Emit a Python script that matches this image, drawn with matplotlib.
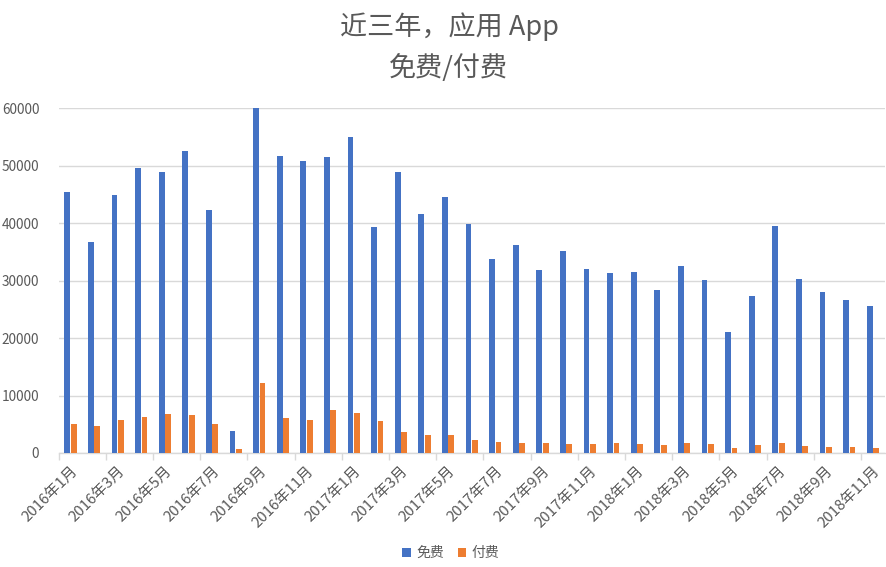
import matplotlib
matplotlib.use("Agg")
import matplotlib.pyplot as plt
import numpy as np
from matplotlib.ticker import FixedLocator, NullFormatter, FixedFormatter

plt.rcParams['font.family'] = ['Noto Sans CJK SC', 'DejaVu Sans']

months = [f"{y}年{m}月" for y in (2016, 2017, 2018) for m in range(1, 13)][:35]
free = [45400, 36700, 44900, 49600, 48900, 52600, 42300, 3800, 60100, 51700,
        50800, 51500, 55000, 39300, 48900, 41600, 44600, 39900, 33700, 36200,
        31900, 35100, 32000, 31300, 31500, 28400, 32500, 30100, 21000, 27300,
        39500, 30300, 28000, 26600, 25600]
paid = [5050, 4700, 5750, 6300, 6800, 6600, 5050, 700, 12200, 6100,
        5750, 7500, 7000, 5600, 3700, 3150, 3150, 2250, 1900, 1750,
        1750, 1550, 1550, 1750, 1550, 1400, 1750, 1550, 870, 1400,
        1750, 1200, 1050, 1050, 870]
series_names = ["免费", "付费"]
colors = ["#4472C4", "#ED7D31"]
text_color = "#595959"
grid_color = "#D9D9D9"

fig = plt.figure(figsize=(8.86, 5.67), dpi=100)
ax = fig.add_axes([58.7/886, 1-453/567, (884.7-58.7)/886, (453-108.3)/567])

x = np.arange(len(months))
w = 0.24
ax.bar(x - 0.135, free, width=w, color=colors[0], label=series_names[0], zorder=3)
ax.bar(x + 0.135, paid, width=w, color=colors[1], label=series_names[1], zorder=3)

ax.set_xlim(-0.5, len(months) - 0.5)
ax.set_ylim(0, 60000)
ax.set_yticks(np.arange(0, 60001, 10000))
ax.yaxis.grid(True, color=grid_color, linewidth=1, zorder=0)
ax.tick_params(axis='y', length=0, pad=14, labelsize=9.8, labelcolor=text_color)

for s in ['top', 'right', 'left']:
    ax.spines[s].set_visible(False)
ax.spines['bottom'].set_color(grid_color)
ax.spines['bottom'].set_linewidth(1)

major = np.arange(-0.5, len(months) - 0.5, 2)
ax.xaxis.set_major_locator(FixedLocator(major))
ax.xaxis.set_major_formatter(NullFormatter())
minor = np.arange(0, len(months), 2)
ax.xaxis.set_minor_locator(FixedLocator(minor))
ax.xaxis.set_minor_formatter(FixedFormatter([months[i] for i in minor]))
ax.tick_params(axis='x', which='major', length=5, color=grid_color, width=1)
ax.tick_params(axis='x', which='minor', length=0, pad=8, labelsize=10.8, labelcolor=text_color)
for lbl in ax.get_xticklabels(minor=True):
    lbl.set_rotation(45)
    lbl.set_ha('right')
    lbl.set_va('top')
    lbl.set_rotation_mode('anchor')

fig.text(449/886, 1-27/567, "近三年，应用 App", ha='center', va='center', fontsize=19.5, color=text_color)
fig.text(449/886, 1-68/567, "免费/付费", ha='center', va='center', fontsize=19.5, color=text_color)

fig.legend(loc='center', bbox_to_anchor=(451/886, 1-553/567), ncol=2, frameon=False,
           fontsize=10, labelcolor=text_color, handlelength=0.6, handleheight=0.6,
           handletextpad=0.4, columnspacing=1.0)

fig.savefig("out.png", dpi=100, facecolor='white')
